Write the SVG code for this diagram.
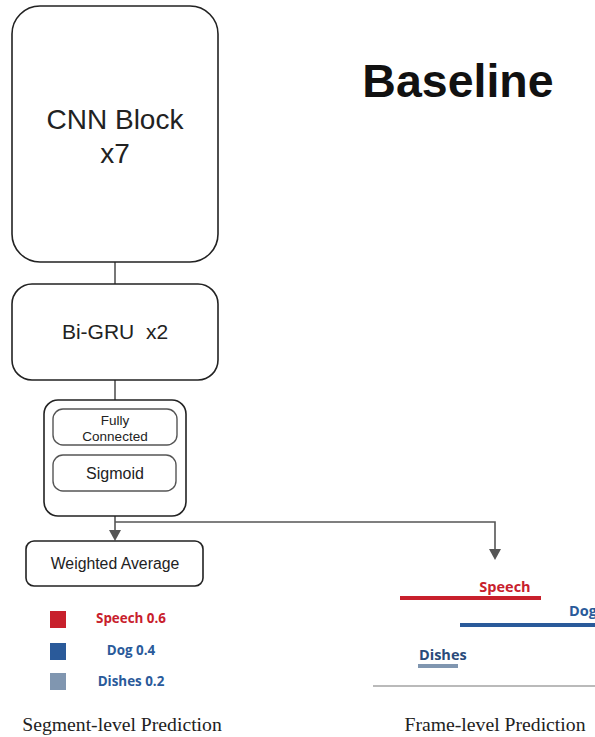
<svg xmlns="http://www.w3.org/2000/svg" width="595" height="737" viewBox="0 0 595 737">
<defs>
<style>
.box{fill:#fff;stroke:#222;stroke-width:1.6}
.ibox{fill:#fff;stroke:#555;stroke-width:1.4}
.lbl{font-family:"Liberation Sans",Arial,sans-serif;fill:#222;text-anchor:middle}
.conn{fill:none;stroke:#555;stroke-width:1.6}
.bold{font-family:"Open Sans","Noto Sans",sans-serif;font-weight:bold;font-size:13.4px}
.fbold{font-family:"Open Sans","Noto Sans",sans-serif;font-weight:bold;font-size:14.5px}
.cap{font-family:"Liberation Serif","Times New Roman",serif;font-size:19.7px;fill:#222;text-anchor:middle}
</style>
</defs>
<rect width="595" height="737" fill="#fff"/>
<text x="458" y="97" font-family="Liberation Sans,Arial,sans-serif" font-weight="bold" font-size="46.5" fill="#111" text-anchor="middle">Baseline</text>
<g id="connectors">
<line class="conn" x1="115" y1="262" x2="115" y2="284"/>
<line class="conn" x1="115" y1="380" x2="115" y2="400"/>
<path class="conn" d="M115,516 V530"/>
<path d="M109,530 L121,530 L115,541 Z" fill="#555"/>
<path class="conn" d="M115,522 H495 V550"/>
<path d="M489,549 L501,549 L495,560 Z" fill="#555"/>
</g>
<g id="cnn">
<rect class="box" x="12" y="6" width="206" height="256" rx="28"/>
<text class="lbl" x="115" y="129" font-size="28">CNN Block</text>
<text class="lbl" x="115" y="163" font-size="28">x7</text>
</g>
<g id="bigru">
<rect class="box" x="12" y="284" width="206" height="96" rx="20"/>
<text class="lbl" x="115" y="339" font-size="21" xml:space="preserve" style="white-space:pre">Bi-GRU  x2</text>
</g>
<g id="head">
<rect class="box" x="44" y="400" width="142" height="116" rx="14"/>
<g id="fc">
<rect class="ibox" x="53" y="409" width="124" height="36" rx="10"/>
<text class="lbl" x="115" y="425" font-size="13.5">Fully</text>
<text class="lbl" x="115" y="441" font-size="13.5">Connected</text>
</g>
<g id="sigmoid">
<rect class="ibox" x="53" y="455" width="123" height="36" rx="10"/>
<text class="lbl" x="115" y="479" font-size="16">Sigmoid</text>
</g>
</g>
<g id="wavg">
<rect class="box" x="26" y="541" width="177" height="45" rx="8"/>
<text class="lbl" x="115" y="569" font-size="15.8">Weighted Average</text>
</g>
<g id="segment">
<rect x="50" y="611" width="16" height="17" fill="#c8202c"/>
<rect x="50" y="643" width="16" height="17" fill="#2a5a9a"/>
<rect x="50" y="673" width="16" height="17" fill="#8096b0"/>
<text class="bold" x="131" y="623" fill="#c8202c" text-anchor="middle">Speech 0.6</text>
<text class="bold" x="131" y="655" fill="#2a5a9a" text-anchor="middle">Dog 0.4</text>
<text class="bold" x="131" y="686" fill="#2a5a9a" text-anchor="middle">Dishes 0.2</text>
<text class="cap" x="122" y="731">Segment-level Prediction</text>
</g>
<g id="frame">
<text class="fbold" x="505" y="592" fill="#c8202c" text-anchor="middle">Speech</text>
<line x1="400" y1="598" x2="541" y2="598" stroke="#c8202c" stroke-width="4"/>
<text class="fbold" x="569" y="616" fill="#2a5a9a">Dog</text>
<line x1="460" y1="625" x2="595" y2="625" stroke="#2a5a9a" stroke-width="4"/>
<text class="fbold" x="419" y="660" fill="#2a4a7a">Dishes</text>
<line x1="418" y1="666" x2="458" y2="666" stroke="#8096b0" stroke-width="4"/>
<line x1="373" y1="686" x2="595" y2="686" stroke="#777" stroke-width="1.2"/>
<text class="cap" x="495" y="731">Frame-level Prediction</text>
</g>
</svg>
